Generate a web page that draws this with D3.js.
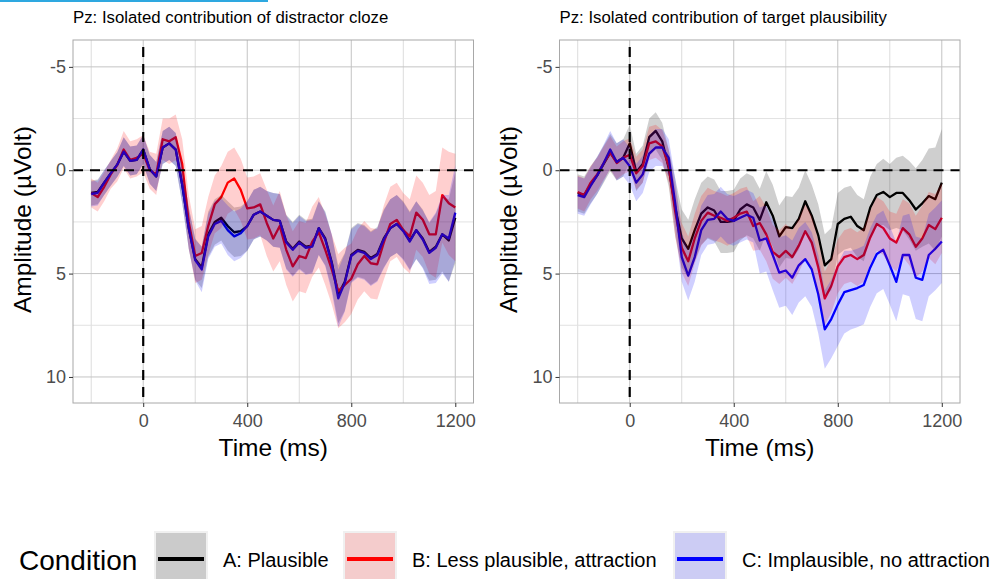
<!DOCTYPE html>
<html><head><meta charset="utf-8">
<script src="https://cdn.jsdelivr.net/npm/d3@7"></script>
<style>
html,body{margin:0;padding:0;background:#fff;}
svg{display:block;font-family:"Liberation Sans",Arial,Helvetica,sans-serif;}
</style></head>
<body>
<svg id="chart" width="993" height="579"></svg>
<script>
const time = [-200,-175,-150,-125,-100,-75,-50,-25,0,25,50,75,100,125,150,175,200,225,250,275,300,325,350,375,400,425,450,475,500,525,550,575,600,625,650,675,700,725,750,775,800,825,850,875,900,925,950,975,1000,1025,1050,1075,1100,1125,1150,1175,1200];

const conditions = ["A: Plausible","B: Less plausible, attraction","C: Implausible, no attraction"];
const panelTitles = ["Pz: Isolated contribution of distractor cloze","Pz: Isolated contribution of target plausibility"];
const xTicks = [0,400,800,1200];
const xMinor = [-200,200,600,1000];
const yTicks = [-5,0,5,10];
const yMinor = [-2.5,2.5,7.5];

// Left panel (distractor cloze) means, µV
const leftA = [1.1,1.05,0.6,0.15,-0.27,-0.9,-0.45,-0.5,-1.0,-0.05,0.3,-1.1,-1.3,-1.0,0.7,2.8,4.3,4.7,3.1,2.5,2.3,2.7,3.0,2.95,2.7,2.15,2.0,2.2,2.4,2.45,3.45,3.8,3.45,3.7,3.65,2.8,3.3,4.45,6.0,5.4,4.1,3.85,3.95,4.25,4.05,3.3,2.8,2.6,2.9,3.4,2.9,3.3,3.95,3.7,3.1,3.4,2.3];
const leftB = [1.1,1.3,0.8,0.2,-0.25,-1.0,-0.5,-0.6,-0.8,0.0,0.2,-1.5,-1.4,-1.6,-0.3,2.5,4.15,4.0,2.7,1.65,1.3,0.6,0.4,0.95,1.85,1.8,1.65,2.55,3.3,2.7,3.85,4.65,4.15,4.25,3.45,3.0,3.85,4.8,5.85,5.55,5.25,4.55,4.15,4.5,4.55,3.5,2.6,2.4,2.9,3.2,2.05,2.4,3.1,3.1,1.2,1.6,1.8];
const leftC = [1.15,1.1,0.6,0.15,-0.27,-0.9,-0.45,-0.5,-1.0,-0.05,0.3,-1.1,-1.3,-1.0,0.7,2.8,4.35,4.8,3.2,2.6,2.45,2.9,3.2,3.05,2.7,2.15,2.0,2.2,2.4,2.45,3.5,3.85,3.5,3.75,3.7,2.8,3.35,4.5,6.2,5.45,4.15,3.9,4.0,4.3,4.1,3.35,2.8,2.6,2.95,3.45,2.9,3.35,4.0,3.75,3.1,3.3,2.05];
// Left panel CI half-widths
const leftAci = [0.6,0.6,0.6,0.6,0.6,0.7,0.7,0.7,0.7,0.7,0.7,0.8,0.8,0.8,0.9,1.0,1.0,1.0,1.1,1.1,1.1,1.2,1.2,1.2,1.2,1.2,1.2,1.2,1.3,1.3,1.3,1.3,1.3,1.3,1.3,1.3,1.3,1.3,1.4,1.4,1.3,1.3,1.3,1.3,1.3,1.4,1.4,1.4,1.4,1.4,1.4,1.4,1.4,1.6,1.8,2.0,2.2];
const leftBci = [0.7,0.7,0.7,0.7,0.8,0.9,0.9,0.9,0.9,0.9,1.0,1.0,1.1,1.1,1.2,1.3,1.3,1.3,1.4,1.4,1.5,1.5,1.5,1.5,1.5,1.5,1.5,1.6,1.6,1.7,1.7,1.7,1.7,1.7,1.7,1.7,1.7,1.7,1.8,1.8,1.7,1.7,1.7,1.7,1.7,1.8,1.8,1.8,1.8,1.8,1.8,1.8,1.9,2.1,2.3,2.5,2.6];
const leftCci = [0.6,0.6,0.6,0.6,0.6,0.7,0.7,0.7,0.7,0.7,0.7,0.8,0.8,0.8,0.9,1.0,1.0,1.1,1.1,1.1,1.1,1.2,1.2,1.2,1.2,1.2,1.2,1.2,1.3,1.3,1.3,1.3,1.3,1.3,1.3,1.3,1.3,1.4,1.4,1.4,1.3,1.3,1.3,1.3,1.3,1.4,1.4,1.4,1.4,1.4,1.4,1.4,1.5,1.7,1.9,2.1,2.3];

// Right panel (target plausibility) means, µV
const rightA = [1.1,1.2,0.7,0.25,-0.3,-0.85,-0.4,-0.6,-1.3,0.1,-0.3,-1.6,-1.9,-1.4,-0.1,1.8,3.3,3.8,2.9,2.1,1.8,1.95,2.5,2.5,2.45,1.9,1.65,1.8,2.4,1.55,2.2,3.2,2.75,2.8,2.35,1.5,2.2,3.15,4.6,4.3,2.6,2.35,2.25,2.7,2.9,1.8,1.2,1.05,1.3,1.1,1.1,1.45,1.9,1.6,1.25,1.4,0.6];
const rightB = [1.05,1.2,0.6,0.2,-0.35,-0.85,-0.35,-0.6,-0.75,0.15,-0.2,-1.3,-1.4,-1.15,-0.2,2.0,3.75,4.4,3.3,2.45,2.05,2.2,2.3,2.45,2.3,2.1,2.0,2.7,2.55,3.1,3.95,4.2,3.9,4.2,3.65,2.95,3.5,4.7,6.2,5.6,4.65,4.2,4.1,4.3,4.1,3.25,2.6,2.8,3.3,3.5,2.8,3.1,3.7,3.3,2.65,2.85,2.3];
const rightC = [1.2,1.3,0.75,0.25,-0.35,-1.0,-0.4,-0.6,-0.2,0.6,0.2,-0.8,-1.1,-1.1,-0.6,1.6,4.2,5.1,4.2,2.9,2.4,2.35,2.0,2.35,2.45,2.3,2.15,2.3,3.4,3.3,4.1,4.95,4.85,5.2,4.6,4.3,4.8,6.0,7.7,7.2,6.5,5.9,5.8,5.7,5.55,4.7,4.05,3.85,4.6,5.4,4.1,4.1,5.2,5.3,4.1,3.8,3.45];
// Right panel CI half-widths
const rightAci = [0.9,0.9,0.9,0.9,0.9,0.9,0.9,0.9,0.9,0.9,0.9,0.9,0.9,0.9,0.9,1.4,1.4,1.4,1.5,1.5,1.5,1.5,1.5,1.5,1.5,1.5,1.5,1.5,1.5,1.5,1.5,1.5,1.5,1.5,1.5,1.5,1.5,1.5,1.5,1.5,1.5,1.5,1.5,1.5,1.5,1.5,1.5,1.6,1.6,1.7,1.8,1.9,2.0,2.1,2.3,2.5,2.6];
const rightBci = [0.8,0.8,0.8,0.8,0.8,0.8,0.8,0.8,0.8,0.8,0.8,0.8,0.8,0.8,0.8,1.2,1.2,1.2,1.2,1.2,1.2,1.2,1.2,1.2,1.2,1.2,1.2,1.2,1.3,1.3,1.3,1.3,1.3,1.3,1.3,1.3,1.3,1.3,1.3,1.3,1.3,1.3,1.3,1.3,1.3,1.3,1.3,1.3,1.3,1.4,1.4,1.5,1.5,1.6,1.6,1.7,1.7];
const rightCci = [0.9,0.9,0.9,0.9,0.9,0.9,0.9,0.9,0.9,0.9,0.9,0.9,0.9,0.9,0.9,1.2,1.2,1.2,1.2,1.2,1.2,1.2,1.2,1.2,1.2,1.2,1.2,1.2,1.6,1.6,1.7,1.7,1.7,1.8,1.8,1.8,1.8,1.9,1.9,1.9,2.0,2.0,1.9,1.9,1.9,1.9,1.9,1.9,1.9,1.9,1.9,2.0,2.0,2.0,2.0,2.0,2.0];

const lineColors = ["#000000","#ff0000","#0000ff"];
const keyFills = ["#cbcbcb","#f4cccc","#ccccf4"];

const panels = [
  {title: panelTitles[0], x0: 73, x1: 473.5, means:[leftA,leftB,leftC], cis:[leftAci,leftBci,leftCci]},
  {title: panelTitles[1], x0: 559.5, x1: 960, means:[rightA,rightB,rightC], cis:[rightAci,rightBci,rightCci]}
];

const svg = d3.select("#chart");
svg.append("rect").attr("x",0).attr("y",0).attr("width",268).attr("height",2).attr("fill","#2ea8e0");

const yTop = 40, yBot = 403;
const y = d3.scaleLinear().domain([-6.3, 11.26]).range([yTop, yBot]);

panels.forEach((p, pi) => {
  const x = d3.scaleLinear().domain([-270, 1270]).range([p.x0, p.x1]);
  const g = svg.append("g");
  const clipId = "clip"+pi;
  svg.append("clipPath").attr("id", clipId).append("rect")
    .attr("x", p.x0).attr("y", yTop).attr("width", p.x1-p.x0).attr("height", yBot-yTop);

  // minor grid
  g.selectAll(".mx").data(xMinor).join("line")
    .attr("x1", d=>x(d)).attr("x2", d=>x(d)).attr("y1", yTop).attr("y2", yBot)
    .attr("stroke","#dcdcdc").attr("stroke-width",1);
  g.selectAll(".my").data(yMinor).join("line")
    .attr("y1", d=>y(d)).attr("y2", d=>y(d)).attr("x1", p.x0).attr("x2", p.x1)
    .attr("stroke","#e2e2e2").attr("stroke-width",1);
  // major grid
  g.selectAll(".Mx").data(xTicks).join("line")
    .attr("x1", d=>x(d)).attr("x2", d=>x(d)).attr("y1", yTop).attr("y2", yBot)
    .attr("stroke","#c4c4c4").attr("stroke-width",1);
  g.selectAll(".My").data(yTicks).join("line")
    .attr("y1", d=>y(d)).attr("y2", d=>y(d)).attr("x1", p.x0).attr("x2", p.x1)
    .attr("stroke","#c4c4c4").attr("stroke-width",1);

  const data = p.means.map((m, ci) => time.map((t, i) => ({t, v: m[i], lo: m[i]-p.cis[ci][i], hi: m[i]+p.cis[ci][i]})));
  const line = d3.line().x(d=>x(d.t)).y(d=>y(d.v));
  const area = d3.area().x(d=>x(d.t)).y0(d=>y(d.lo)).y1(d=>y(d.hi));
  const plot = g.append("g").attr("clip-path", `url(#${clipId})`);
  data.forEach((s, ci) => {
    plot.append("path").datum(s).attr("d", line).attr("fill","none")
      .attr("stroke", lineColors[ci]).attr("stroke-width",2.3).attr("stroke-linejoin","round");
  });
  data.forEach((s, ci) => {
    plot.append("path").datum(s).attr("d", area)
      .attr("fill", lineColors[ci]).attr("fill-opacity",0.19).attr("stroke","none");
  });
  // zero reference lines
  plot.append("line").attr("x1", p.x0).attr("x2", p.x1).attr("y1", y(0)).attr("y2", y(0))
    .attr("stroke","#000").attr("stroke-width",2.2).attr("stroke-dasharray","10,7");
  plot.append("line").attr("x1", x(0)).attr("x2", x(0)).attr("y1", yTop+7).attr("y2", yBot)
    .attr("stroke","#000").attr("stroke-width",2.2).attr("stroke-dasharray","10,7");

  // border
  g.append("rect").attr("x", p.x0).attr("y", yTop).attr("width", p.x1-p.x0).attr("height", yBot-yTop)
    .attr("fill","none").attr("stroke","#a8a8a8").attr("stroke-width",1);

  // axes
  const fmt = d => String(d);
  const ax = g.append("g").attr("transform", `translate(0,${yBot})`)
    .call(d3.axisBottom(x).tickValues(xTicks).tickFormat(fmt).tickSize(4).tickPadding(3));
  const ay = g.append("g").attr("transform", `translate(${p.x0},0)`)
    .call(d3.axisLeft(y).tickValues(yTicks).tickFormat(fmt).tickSize(4).tickPadding(3));
  [ax, ay].forEach(a => {
    a.select(".domain").remove();
    a.selectAll(".tick line").attr("stroke","#333").attr("stroke-width",1);
    a.selectAll(".tick text").attr("fill","#4d4d4d").style("font-size","18px")
      .style("font-family",'"Liberation Sans",Arial,sans-serif');
  });
  ax.selectAll(".tick text").attr("dy","0.95em");

  g.append("text").attr("x", p.x0).attr("y", 23).text(p.title)
    .style("font-size","16.8px").attr("fill","#000");
  g.append("text").attr("x", (p.x0+p.x1)/2).attr("y", 456).attr("text-anchor","middle")
    .text("Time (ms)").style("font-size","24.5px").attr("fill","#000");
  g.append("text").attr("transform", `translate(${p.x0-51},${(yTop+yBot)/2 - 2}) rotate(-90)`)
    .attr("text-anchor","middle").attr("dy","0.35em")
    .text("Amplitude (µVolt)").style("font-size","24.5px").attr("fill","#000");
});

// legend
const leg = svg.append("g");
leg.append("text").attr("x", 19).attr("y", 570).text("Condition").style("font-size","28px").attr("fill","#000");
const keyX = [154, 343, 673];
conditions.forEach((c, i) => {
  leg.append("rect").attr("x", keyX[i]).attr("y", 531).attr("width", 54).attr("height", 60).attr("fill","#f0f0f0");
  leg.append("rect").attr("x", keyX[i]+2).attr("y", 533).attr("width", 50).attr("height", 58).attr("fill", keyFills[i]);
  leg.append("line").attr("x1", keyX[i]+4).attr("x2", keyX[i]+50).attr("y1", 559).attr("y2", 559)
    .attr("stroke", lineColors[i]).attr("stroke-width",4);
  leg.append("text").attr("x", keyX[i]+69).attr("y", 567).text(c).style("font-size","20px").attr("fill","#000");
});
</script>
</body></html>
